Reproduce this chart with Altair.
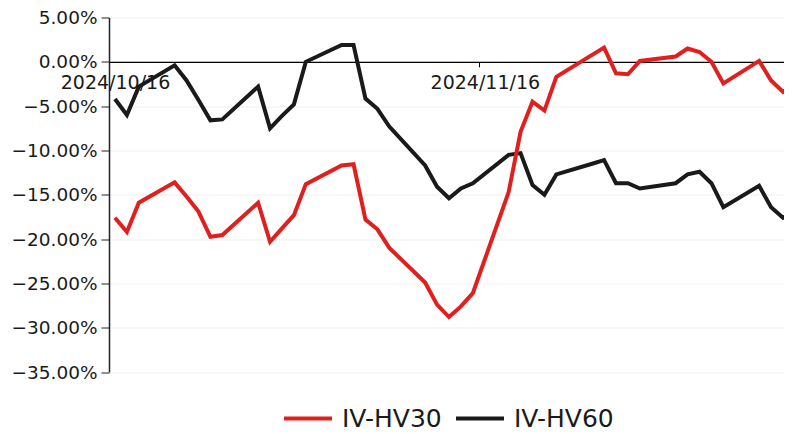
import altair as alt
import pandas as pd

dates = [
    "2024-10-16", "2024-10-17", "2024-10-18", "2024-10-21", "2024-10-22",
    "2024-10-23", "2024-10-24", "2024-10-25", "2024-10-28", "2024-10-29",
    "2024-10-30", "2024-10-31", "2024-11-01", "2024-11-04", "2024-11-05",
    "2024-11-06", "2024-11-07", "2024-11-08", "2024-11-11", "2024-11-12",
    "2024-11-13", "2024-11-14", "2024-11-15", "2024-11-18", "2024-11-19",
    "2024-11-20", "2024-11-21", "2024-11-22", "2024-11-25", "2024-11-26",
    "2024-11-27", "2024-11-28", "2024-11-29", "2024-12-02", "2024-12-03",
    "2024-12-04", "2024-12-05", "2024-12-06", "2024-12-09", "2024-12-10",
    "2024-12-11", "2024-12-12",
]

# values in percent
iv_hv30 = [
    -17.6, -19.2, -15.9, -13.6, -15.2,
    -16.9, -19.75, -19.55, -15.9, -20.3,
    -18.8, -17.3, -13.8, -11.7, -11.56,
    -17.8, -18.9, -21.0, -24.9, -27.4,
    -28.8, -27.6, -26.1, -14.7, -7.9,
    -4.5, -5.5, -1.7, 0.78, 1.6,
    -1.3, -1.4, 0.1, 0.6, 1.5,
    1.1, 0.0, -2.45, 0.1, -2.1,
    -3.4, -2.4,
]

iv_hv60 = [
    -4.2, -6.0, -2.8, -0.4, -2.1,
    -4.3, -6.6, -6.5, -2.8, -7.5,
    -6.1, -4.8, 0.0, 1.9, 1.9,
    -4.15, -5.3, -7.3, -11.7, -14.1,
    -15.4, -14.3, -13.7, -10.5, -10.3,
    -13.9, -15.0, -12.7, -11.5, -11.1,
    -13.7, -13.7, -14.3, -13.7, -12.7,
    -12.4, -13.7, -16.4, -14.0, -16.4,
    -17.6, -16.7,
]

series_names = ["IV-HV30", "IV-HV60"]
series_colors = ["#e0201f", "#1a1a1a"]

df30 = pd.DataFrame({"date": dates, "value": [v / 100 for v in iv_hv30], "series": series_names[0]})
df60 = pd.DataFrame({"date": dates, "value": [v / 100 for v in iv_hv60], "series": series_names[1]})

FONT = "DejaVu Sans"
PLOT_H = 354.5

x_enc = alt.X(
    "date:T",
    scale=alt.Scale(
        type="utc",
        domain=[
            alt.DateTime(year=2024, month=10, date=15, hours=12, utc=True),
            alt.DateTime(year=2024, month=12, date=11, hours=2, utc=True),
        ],
    ),
    axis=alt.Axis(
        values=[
            alt.DateTime(year=2024, month=10, date=15, hours=12, utc=True),
            alt.DateTime(year=2024, month=11, date=15, hours=12, utc=True),
        ],
        labelExpr="utcFormat(datum.value + 43200000, '%Y/%m/%d')",
        title=None,
        grid=False,
        offset=-(PLOT_H * 35 / 40),
        domainColor="#000000",
        domainWidth=1.2,
        tickColor="#000000",
        tickSize=5,
        labelOffset=6,
        labelPadding=7,
        labelFont=FONT,
        labelFontSize=19,
        labelColor="#1a1a1a",
        labelAlign="center",
    ),
)

y_enc = alt.Y(
    "value:Q",
    scale=alt.Scale(domain=[-0.35, 0.05], nice=False, zero=False),
    axis=alt.Axis(
        values=[0.05, 0.0, -0.05, -0.10, -0.15, -0.20, -0.25, -0.30, -0.35],
        format=".2%",
        title=None,
        grid=True,
        gridColor="#efefef",
        gridWidth=1.2,
        domainColor="#222222",
        domainWidth=1.5,
        tickColor="#222222",
        tickSize=8,
        labelPadding=4,
        labelFont=FONT,
        labelFontSize=18.5,
        labelColor="#1a1a1a",
    ),
)

color_enc = alt.Color(
    "series:N",
    scale=alt.Scale(domain=series_names, range=series_colors),
    legend=alt.Legend(
        title=None,
        orient="none",
        direction="horizontal",
        legendX=173,
        legendY=375,
        symbolType="stroke",
        symbolSize=2304,
        symbolStrokeWidth=4,
        labelFont=FONT,
        labelFontSize=25,
        labelColor="#1a1a1a",
        labelOffset=8,
        columnPadding=6,
        labelLimit=300,
    ),
)

black_line = alt.Chart(df60).mark_line(strokeWidth=4, clip=True, strokeJoin="miter").encode(
    x=x_enc, y=y_enc, color=color_enc
)
red_line = alt.Chart(df30).mark_line(strokeWidth=4, clip=True, strokeJoin="miter").encode(
    x=x_enc, y=y_enc, color=color_enc
)

chart = (
    alt.layer(black_line, red_line)
    .properties(
        width=675,
        height=PLOT_H,
        autosize=alt.AutoSizeParams(type="none"),
        padding={"left": 101, "top": 9.5, "right": 0, "bottom": 62},
        background="#ffffff",
    )
    .configure_view(stroke=None)
)

chart.save("out.html", embed_options={"renderer": "svg", "actions": False})
